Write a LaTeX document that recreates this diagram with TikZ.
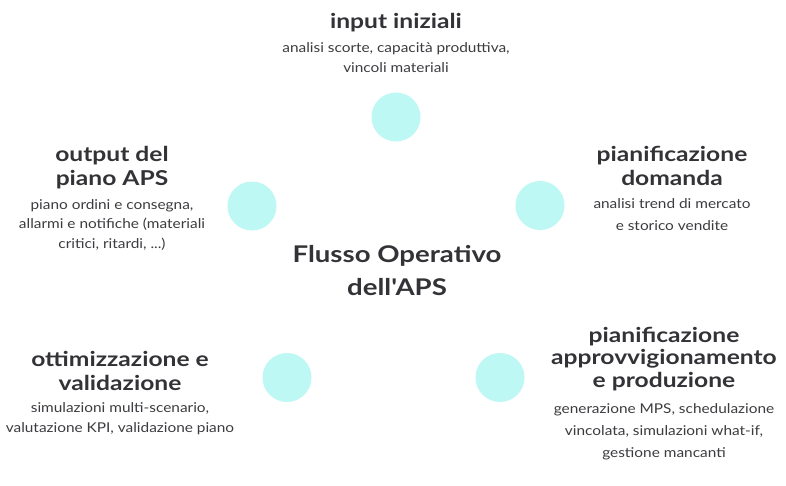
\documentclass[tikz,border=0pt]{standalone}
\usepackage{fontspec}
\setmainfont{Lato}[FakeStretch=1.14]
\newfontfamily\ttlfont{Lato}[FakeStretch=1.2]
\definecolor{dot}{RGB}{190,248,245}
\definecolor{ink}{RGB}{51,51,55}
\definecolor{subink}{RGB}{60,60,64}
\begin{document}
\begin{tikzpicture}[x=1pt,y=-1pt,
  dotc/.style={circle,fill=dot,minimum size=49pt,inner sep=0pt},
  ttl/.style={anchor=base,align=center,inner sep=0pt,text=ink,font=\ttlfont\bfseries\fontsize{20.5}{23.5}\selectfont},
  big/.style={anchor=base,align=center,inner sep=0pt,text=ink,font=\ttlfont\bfseries\fontsize{23}{33}\selectfont},
  desc/.style={anchor=base,align=center,inner sep=0pt,text=subink,font=\fontsize{13.5}{21}\selectfont}]
\useasboundingbox (0,0) rectangle (786,485);
\fill[white] (0,0) rectangle (786,485);
% circles
\node[dotc] (c1) at (396,117) {};
\node[dotc] (c2) at (540,205.5) {};
\node[dotc] (c3) at (500,377.5) {};
\node[dotc] (c4) at (287,377.5) {};
\node[dotc] (c5) at (252,206) {};
% center (base = last line)
\node[big] (center) at (397,295) {Flusso Operativo\\dell'APS};
% top
\node[ttl] (t1) at (396,28) {input iniziali};
\node[desc,font=\fontsize{13.5}{20}\selectfont] (d1) at (396,72) {analisi scorte, capacità produttiva,\\vincoli materiali};
% right
\node[ttl] (t2) at (672,185) {pianificazione\\domanda};
\node[desc,font=\fontsize{13.5}{22}\selectfont] (d2) at (672,230) {analisi trend di mercato\\e storico vendite};
% lower right
\node[ttl,font=\ttlfont\bfseries\fontsize{20.5}{22.5}\selectfont] (t3) at (664,387) {pianificazione\\approvvigionamento\\e produzione};
\node[desc,font=\fontsize{13.5}{22}\selectfont] (d3) at (664,457) {generazione MPS, schedulazione\\vincolata, simulazioni what-if,\\gestione mancanti};
% lower left
\node[ttl] (t4) at (120,390) {ottimizzazione e\\validazione};
\node[desc,font=\fontsize{13.5}{20}\selectfont] (d4) at (120,432) {simulazioni multi-scenario,\\valutazione KPI, validazione piano};
% upper left
\node[ttl] (t5) at (112,185) {output del\\piano APS};
\node[desc,font=\fontsize{13.5}{19.5}\selectfont] (d5) at (112,248) {piano ordini e consegna,\\allarmi e notifiche (materiali\\critici, ritardi, ...)};
\end{tikzpicture}
\end{document}
